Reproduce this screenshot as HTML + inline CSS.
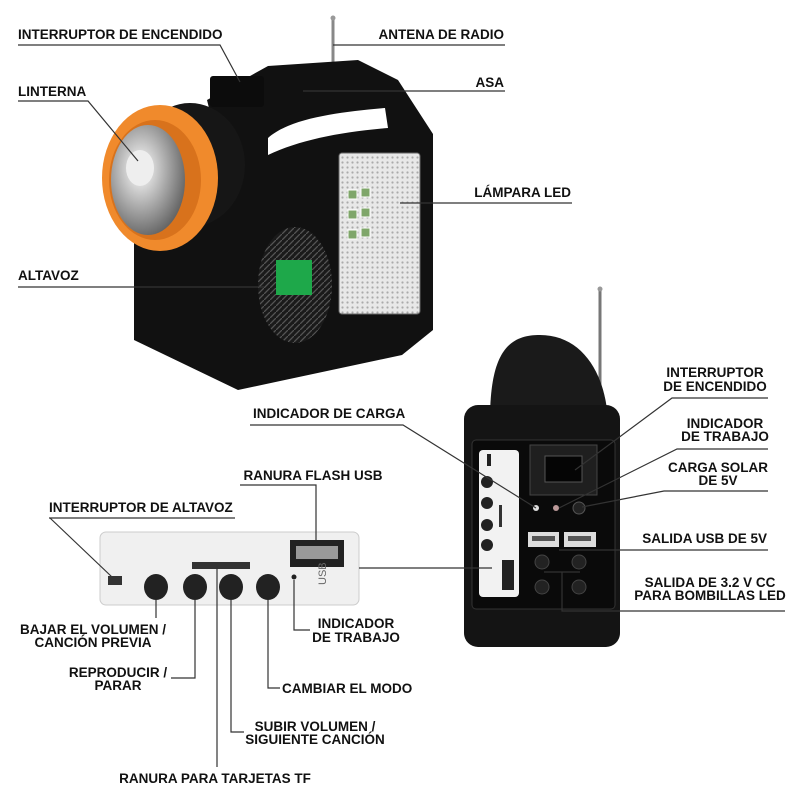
<!DOCTYPE html>
<html><head><meta charset="utf-8"><style>
html,body{margin:0;padding:0;background:#fff;}
svg{display:block;}
text{font-family:"Liberation Sans Narrow","Liberation Sans",sans-serif;font-weight:bold;font-size:13.5px;fill:#111;}
.l{stroke:#333;stroke-width:1.2;fill:none;}
</style></head><body>
<svg width="800" height="800" viewBox="0 0 800 800" xmlns="http://www.w3.org/2000/svg">
<defs>
<pattern id="dots" width="5" height="5" patternUnits="userSpaceOnUse"><rect width="5" height="5" fill="#e8e8e8"/><circle cx="2.5" cy="2.5" r="1.1" fill="#aaa"/></pattern>
<pattern id="grill" width="6" height="6" patternUnits="userSpaceOnUse"><rect width="6" height="6" fill="#1a1a1a"/><path d="M0 6L6 0" stroke="#555" stroke-width="1.3"/></pattern>
<radialGradient id="chrome" cx="0.4" cy="0.4" r="0.7"><stop offset="0" stop-color="#fff"/><stop offset="0.5" stop-color="#aaa"/><stop offset="1" stop-color="#555"/></radialGradient>
</defs>

<!-- ===== Top lamp ===== -->
<line x1="333" y1="18" x2="333" y2="64" stroke="#888" stroke-width="3"/>
<circle cx="333" cy="18" r="2.5" fill="#999"/>
<polygon points="207,100 268,66 358,60 398,80 433,134 433,330 402,355 238,390 134,340 134,240 210,112" fill="#111"/>
<path d="M268,138 C290,118 340,112 385,108 L388,128 C340,132 300,140 268,155 Z" fill="#fff"/>
<rect x="210" y="76" width="54" height="31" rx="3" fill="#0c0c0c"/>
<ellipse cx="190" cy="165" rx="55" ry="62" fill="#161616"/>
<ellipse cx="160" cy="178" rx="58" ry="73" fill="#f08a2c"/>
<ellipse cx="155" cy="180" rx="46" ry="60" fill="#d8721c"/>
<ellipse cx="148" cy="180" rx="37" ry="55" fill="url(#chrome)"/>
<ellipse cx="140" cy="168" rx="14" ry="18" fill="#eee"/>
<ellipse cx="295" cy="285" rx="37" ry="58" fill="url(#grill)"/>
<rect x="276" y="260" width="36" height="35" fill="#1ea84a"/>
<rect x="339" y="153" width="81" height="161" rx="3" fill="url(#dots)" stroke="#666"/>
<g fill="#7fa66a" stroke="#fff" stroke-width="1">
<rect x="348" y="190" width="9" height="9"/><rect x="361" y="188" width="9" height="9"/>
<rect x="348" y="210" width="9" height="9"/><rect x="361" y="208" width="9" height="9"/>
<rect x="348" y="230" width="9" height="9"/><rect x="361" y="228" width="9" height="9"/>
</g>

<!-- top labels -->
<text x="18" y="39">INTERRUPTOR DE ENCENDIDO</text>
<polyline class="l" points="18,45 220,45 240,82"/>
<text x="504" y="39" text-anchor="end">ANTENA DE RADIO</text>
<line class="l" x1="333" y1="45" x2="505" y2="45"/>
<text x="18" y="96">LINTERNA</text>
<polyline class="l" points="18,101 88,101 138,161"/>
<text x="504" y="87" text-anchor="end">ASA</text>
<line class="l" x1="303" y1="91" x2="505" y2="91"/>
<text x="571" y="197" text-anchor="end">LÁMPARA LED</text>
<line class="l" x1="400" y1="203" x2="572" y2="203"/>
<text x="18" y="280">ALTAVOZ</text>
<line class="l" x1="18" y1="287" x2="264" y2="287"/>

<!-- ===== Right device ===== -->
<line x1="600" y1="287" x2="600" y2="410" stroke="#777" stroke-width="3"/>
<circle cx="600" cy="289" r="2.5" fill="#999"/>
<path d="M490,420 C490,350 510,335 540,335 C580,335 605,370 608,420 Z" fill="#1a1a1a"/>
<rect x="464" y="405" width="156" height="242" rx="14" fill="#141414"/>
<rect x="472" y="440" width="143" height="169" rx="4" fill="#0a0a0a" stroke="#333"/>
<rect x="479" y="450" width="40" height="147" rx="4" fill="#f2f2f2"/>
<rect x="487" y="454" width="4" height="12" fill="#222"/>
<circle cx="487" cy="482" r="6" fill="#222"/><circle cx="487" cy="503" r="6" fill="#222"/><circle cx="487" cy="525" r="6" fill="#222"/><circle cx="487" cy="545" r="6" fill="#222"/>
<rect x="499" y="505" width="3" height="22" fill="#333"/>
<rect x="502" y="560" width="12" height="30" fill="#222"/>
<rect x="530" y="445" width="67" height="50" fill="#1f1f1f" stroke="#444"/>
<rect x="545" y="456" width="37" height="26" fill="#050505" stroke="#555"/>
<circle cx="536" cy="508" r="3" fill="#ddd"/><circle cx="556" cy="508" r="3" fill="#b99"/>
<circle cx="579" cy="508" r="6" fill="#222" stroke="#555"/>
<rect x="528" y="532" width="31" height="15" fill="#ddd"/><rect x="532" y="536" width="23" height="5" fill="#555"/>
<rect x="564" y="532" width="32" height="15" fill="#ddd"/><rect x="568" y="536" width="23" height="5" fill="#555"/>
<g fill="#222" stroke="#444"><circle cx="542" cy="562" r="7"/><circle cx="579" cy="562" r="7"/><circle cx="542" cy="587" r="7"/><circle cx="579" cy="587" r="7"/></g>

<!-- right labels -->
<text x="715" y="377" text-anchor="middle">INTERRUPTOR</text>
<text x="715" y="391" text-anchor="middle">DE ENCENDIDO</text>
<polyline class="l" points="768,398 672,398 575,470"/>
<text x="725" y="428" text-anchor="middle">INDICADOR</text>
<text x="725" y="441" text-anchor="middle">DE TRABAJO</text>
<polyline class="l" points="768,449 677,449 559,508"/>
<text x="718" y="472" text-anchor="middle">CARGA SOLAR</text>
<text x="718" y="485" text-anchor="middle">DE 5V</text>
<polyline class="l" points="768,491 664,491 582,507"/>
<text x="767" y="543" text-anchor="end">SALIDA USB DE 5V</text>
<line class="l" x1="559" y1="550" x2="768" y2="550"/>
<text x="710" y="587" text-anchor="middle">SALIDA DE 3.2 V CC</text>
<text x="710" y="600" text-anchor="middle">PARA BOMBILLAS LED</text>
<polyline class="l" points="544,572 580,572"/>
<polyline class="l" points="562,572 562,611 785,611"/>

<!-- ===== Board ===== -->
<rect x="100" y="532" width="259" height="73" rx="6" fill="#f0f0f0" stroke="#ccc"/>
<rect x="108" y="576" width="14" height="9" fill="#333"/>
<rect x="192" y="562" width="58" height="7" fill="#333"/>
<rect x="290" y="540" width="54" height="27" fill="#222"/><rect x="296" y="546" width="42" height="13" fill="#999"/>
<text x="326" y="585" transform="rotate(-90 326 585)" style="font-size:11px;fill:#666;font-weight:normal">USB</text>
<g fill="#222"><ellipse cx="156" cy="587" rx="12" ry="13"/><ellipse cx="195" cy="587" rx="12" ry="13"/><ellipse cx="231" cy="587" rx="12" ry="13"/><ellipse cx="268" cy="587" rx="12" ry="13"/></g>
<circle cx="294" cy="577" r="2.5" fill="#222"/>
<line class="l" x1="359" y1="568" x2="492" y2="568"/>

<!-- board labels -->
<text x="253" y="418">INDICADOR DE CARGA</text>
<polyline class="l" points="250,425 403,425 536,508"/>
<text x="313" y="480" text-anchor="middle">RANURA FLASH USB</text>
<polyline class="l" points="240,485 316,485 316,540"/>
<text x="49" y="512">INTERRUPTOR DE ALTAVOZ</text>
<polyline class="l" points="235,518 49,518"/>
<polyline class="l" points="50,518 112,577"/>
<line class="l" x1="156" y1="600" x2="156" y2="618"/>
<text x="93" y="634" text-anchor="middle">BAJAR EL VOLUMEN /</text>
<text x="93" y="647" text-anchor="middle">CANCIÓN PREVIA</text>
<polyline class="l" points="195,600 195,678 171,678"/>
<text x="118" y="677" text-anchor="middle">REPRODUCIR /</text>
<text x="118" y="690" text-anchor="middle">PARAR</text>
<polyline class="l" points="231,600 231,732 244,732"/>
<text x="315" y="731" text-anchor="middle">SUBIR VOLUMEN /</text>
<text x="315" y="744" text-anchor="middle">SIGUIENTE CANCIÓN</text>
<line class="l" x1="217" y1="566" x2="217" y2="767"/>
<text x="215" y="783" text-anchor="middle">RANURA PARA TARJETAS TF</text>
<polyline class="l" points="268,600 268,688 280,688"/>
<text x="282" y="693">CAMBIAR EL MODO</text>
<polyline class="l" points="294,580 294,630 310,630"/>
<text x="356" y="628" text-anchor="middle">INDICADOR</text>
<text x="356" y="642" text-anchor="middle">DE TRABAJO</text>
</svg>
</body></html>
